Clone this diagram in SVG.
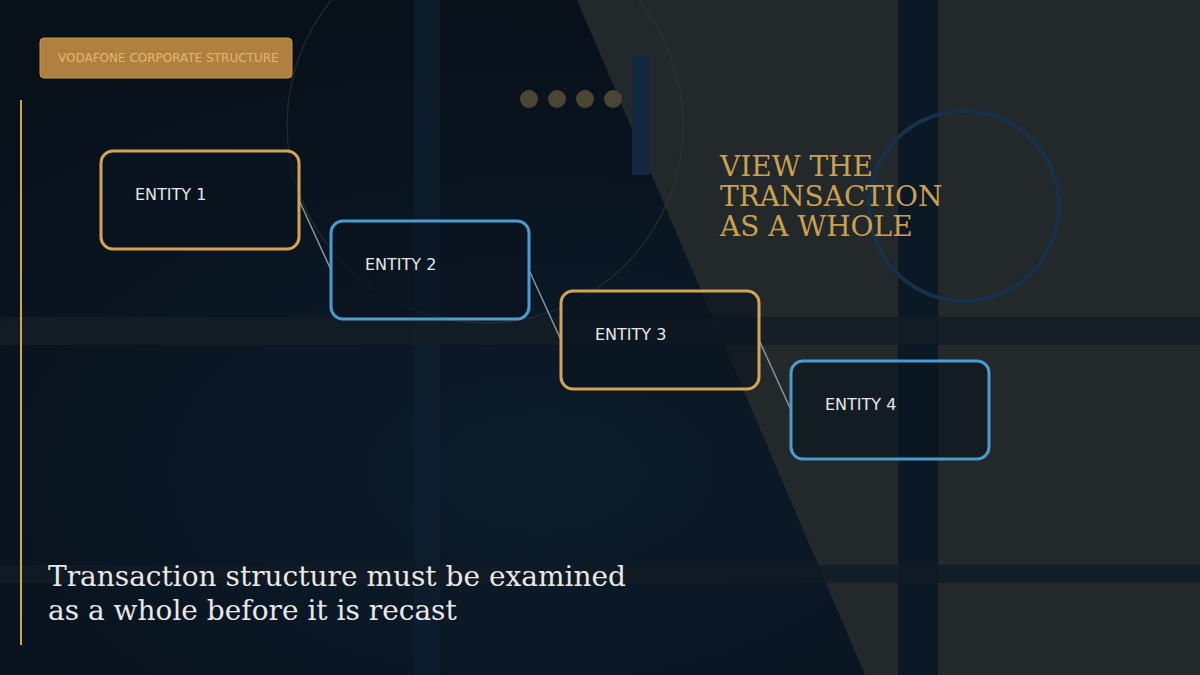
<svg xmlns="http://www.w3.org/2000/svg" width="1200" height="675" viewBox="0 0 1200 675">
<defs>
<style>
.box{fill:#0a1420;fill-opacity:0.6;stroke-width:3}
.gold{stroke:#d4a456}.blue{stroke:#4a9bd0}
.lbl{font-family:"DejaVu Sans",sans-serif;font-size:16px;fill:#e8e8e8}
.con{stroke:#8a95a0;stroke-width:1.5;fill:none}
.dot{fill:#4a4535}
</style>
<radialGradient id="bg" cx="0.45" cy="0.7" r="0.7"><stop offset="0" stop-color="#0c1c2b"/><stop offset="1" stop-color="#08101a"/></radialGradient>
</defs>
<rect width="1200" height="675" fill="url(#bg)"/>
<polygon points="577,0 1200,0 1200,675 865,675" fill="#23282a"/>
<rect x="414" y="0" width="26" height="675" fill="#0d1e2e" opacity="0.8"/>
<rect x="898" y="0" width="40" height="675" fill="#0b1826"/>
<rect x="0" y="317" width="1200" height="28" fill="#141d26" opacity="0.85"/>
<rect x="0" y="565" width="1200" height="18" fill="#111b25" opacity="0.85"/>
<circle cx="485" cy="125" r="198" fill="none" stroke="#3a3a35" stroke-width="1.5" opacity="0.5"/>
<circle cx="964" cy="206" r="95" fill="none" stroke="#17314a" stroke-width="4"/>
<rect x="632" y="55" width="18" height="120" fill="#14293f"/>
<circle class="dot" cx="529" cy="99" r="9"/><circle class="dot" cx="557" cy="99" r="9"/><circle class="dot" cx="585" cy="99" r="9"/><circle class="dot" cx="613" cy="99" r="9"/>
<rect x="20" y="100" width="2" height="545" fill="#d4a456"/>
<g id="badge"><rect x="40" y="38" width="252" height="40" rx="4" fill="#b08040" stroke="#c89448"/>
<text x="58" y="62" font-family="DejaVu Sans,sans-serif" font-size="12" fill="#e0b870">VODAFONE CORPORATE STRUCTURE</text></g>
<g id="connectors">
<line class="con" x1="299" y1="200" x2="331" y2="270"/>
<line class="con" x1="529" y1="270" x2="561" y2="340"/>
<line class="con" x1="759" y1="340" x2="791" y2="410"/>
</g>
<g id="entity1"><rect class="box gold" x="101" y="151" width="198" height="98" rx="12"/><text class="lbl" x="135" y="200">ENTITY 1</text></g>
<g id="entity2"><rect class="box blue" x="331" y="221" width="198" height="98" rx="12"/><text class="lbl" x="365" y="270">ENTITY 2</text></g>
<g id="entity3"><rect class="box gold" x="561" y="291" width="198" height="98" rx="12"/><text class="lbl" x="595" y="340">ENTITY 3</text></g>
<g id="entity4"><rect class="box blue" x="791" y="361" width="198" height="98" rx="12"/><text class="lbl" x="825" y="410">ENTITY 4</text></g>
<g id="title" font-family="DejaVu Serif,serif" font-size="28" fill="#c9a050">
<text x="720" y="176">VIEW THE</text><text x="720" y="206">TRANSACTION</text><text x="720" y="236">AS A WHOLE</text></g>
<g id="caption" font-family="DejaVu Serif,serif" font-size="28" fill="#e8e8e8">
<text x="48" y="586">Transaction structure must be examined</text><text x="48" y="620">as a whole before it is recast</text></g>
</svg>
